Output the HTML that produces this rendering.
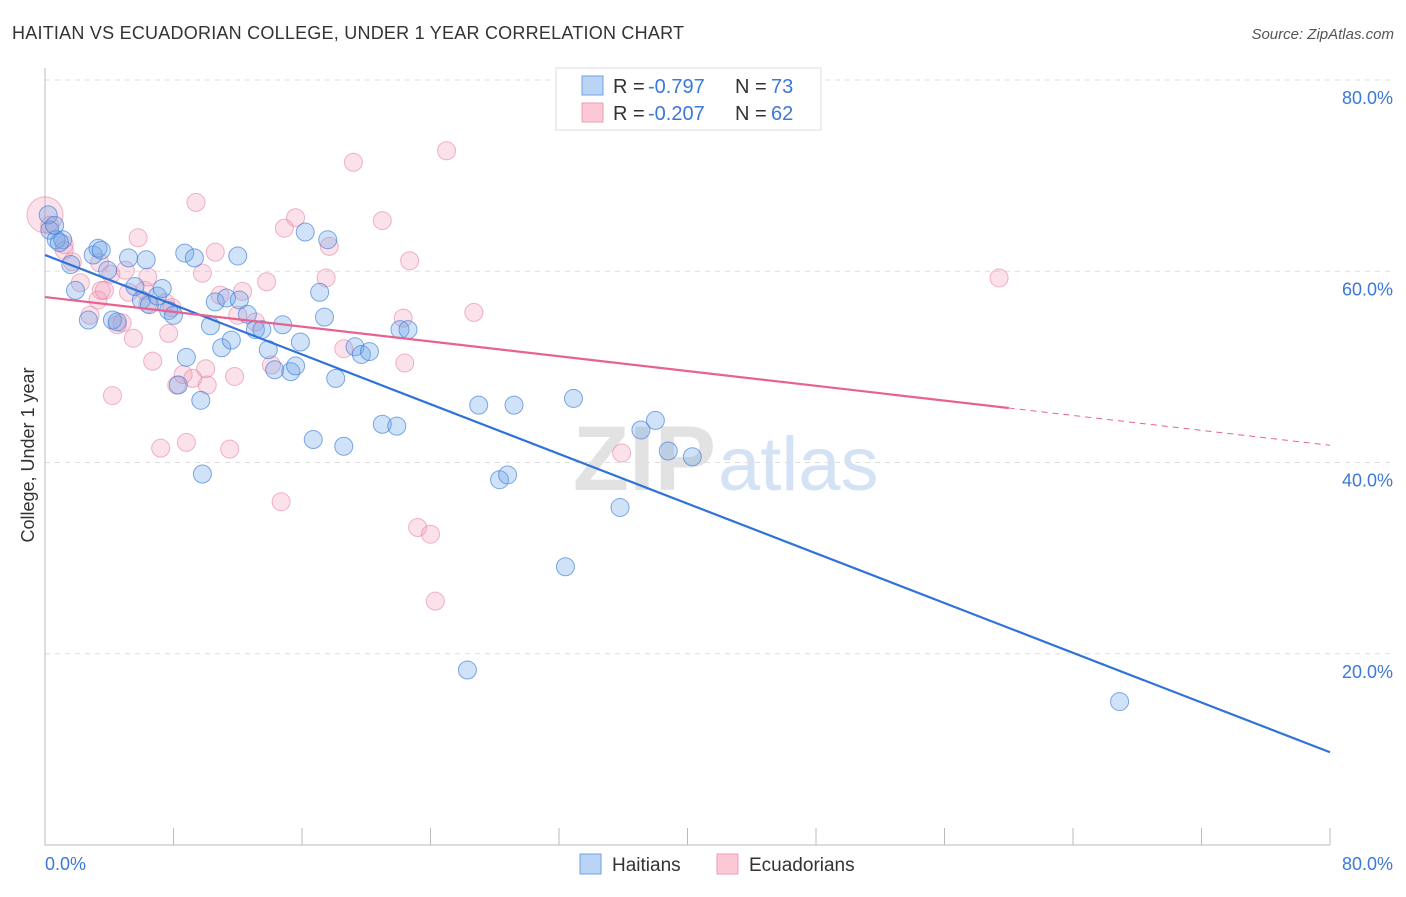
<!DOCTYPE html>
<html><head><meta charset="utf-8"><style>
body{margin:0;background:#fff;font-family:"Liberation Sans",sans-serif}
svg text{font-family:"Liberation Sans",sans-serif}
</style></head><body>
<svg id="c" width="1406" height="892" xmlns="http://www.w3.org/2000/svg">
<text x="12" y="39" font-size="18" fill="#333" textLength="672">HAITIAN VS ECUADORIAN COLLEGE, UNDER 1 YEAR CORRELATION CHART</text>
<text x="1394" y="39" font-size="15" fill="#555" text-anchor="end" font-style="italic">Source: ZipAtlas.com</text>
<text x="716" y="490" font-size="92" fill="#e2e2e2" text-anchor="end" font-weight="bold">ZIP</text>
<text x="718" y="490" font-size="76" fill="#d3e2f4">atlas</text>
<g id="grid"></g><g id="pts"></g><g id="lines"></g>
<text transform="translate(34,455) rotate(-90)" font-size="18" fill="#333" text-anchor="middle">College, Under 1 year</text>
<text x="45" y="870" font-size="18" fill="#3b78d8">0.0%</text>
<text x="1393" y="870" font-size="18" fill="#3b78d8" text-anchor="end">80.0%</text>
<g>
<rect x="556" y="68" width="265" height="62" fill="#fff" stroke="#ddd"/>
<rect x="582" y="76" width="21" height="19" fill="#b9d4f5" stroke="#6ea2e4"/>
<rect x="582" y="103" width="21" height="19" fill="#fcc8d6" stroke="#ee9bb5"/>
<text x="613" y="93" font-size="20" fill="#333">R =</text>
<text x="648" y="93" font-size="20" fill="#3b78d8">-0.797</text>
<text x="735" y="93" font-size="20" fill="#333">N =</text>
<text x="771" y="93" font-size="20" fill="#3b78d8">73</text>
<text x="613" y="120" font-size="20" fill="#333">R =</text>
<text x="648" y="120" font-size="20" fill="#3b78d8">-0.207</text>
<text x="735" y="120" font-size="20" fill="#333">N =</text>
<text x="771" y="120" font-size="20" fill="#3b78d8">62</text>
</g>
<g>
<rect x="580" y="854" width="21" height="20" fill="#b9d4f5" stroke="#6ea2e4"/>
<text x="612" y="871" font-size="19" fill="#333">Haitians</text>
<rect x="717" y="854" width="21" height="20" fill="#fcc8d6" stroke="#ee9bb5"/>
<text x="749" y="871" font-size="19" fill="#333">Ecuadorians</text>
</g>
</svg>
<script>
const yTicks=[20,40,60,80];
const yTickLabels=["20.0%","40.0%","60.0%","80.0%"];
const haitiX=[0.3,0.7,1.1,1.6,1.9,2.7,3.0,3.3,3.5,3.9,4.2,4.5,5.2,5.6,6.0,6.3,6.5,7.0,7.3,7.7,8.0,8.3,8.7,8.8,9.3,9.7,9.8,10.3,10.6,11.0,11.3,11.6,12.0,12.1,12.6,13.1,13.5,13.9,14.3,14.8,15.3,15.6,15.9,16.2,16.7,17.1,17.4,17.6,18.1,18.6,19.3,19.7,20.2,21.0,21.9,22.1,22.6,27.0,28.3,28.8,29.2,32.4,32.9,35.8,37.1,38.0,38.8,40.3,26.3,66.9,0.2,0.6,0.9];
const haitiY=[64.3,63.3,63.3,60.7,58.0,54.9,61.7,62.4,62.2,60.1,54.9,54.7,61.4,58.4,57.0,61.2,56.5,57.4,58.2,55.9,55.4,48.1,61.9,51.0,61.4,46.5,38.8,54.3,56.8,52.0,57.2,52.8,61.6,57.0,55.5,53.9,53.9,51.8,49.7,54.4,49.5,50.1,52.6,64.1,42.4,57.8,55.2,63.3,48.8,41.7,52.1,51.3,51.6,44.0,43.8,53.9,53.9,46.0,38.2,38.7,46.0,29.1,46.7,35.3,43.4,44.4,41.2,40.6,18.3,15.0,65.9,64.8,63.0];
const ecuX=[0,0.3,1.2,1.7,2.2,2.8,3.3,3.5,3.7,4.1,4.2,4.5,5.0,5.2,5.5,5.8,6.2,6.4,6.7,7.2,7.5,7.7,7.9,8.2,8.6,8.8,9.2,9.4,9.8,10.0,10.1,10.6,10.9,11.5,11.8,12.0,12.3,13.1,13.8,14.1,14.7,14.9,15.6,17.7,17.5,18.6,19.2,21.0,22.3,22.4,22.7,23.2,24.0,24.3,25.0,26.7,35.9,59.4,1.2,3.4,6.4,4.8];
const ecuY=[65.9,64.8,62.2,61.0,58.8,55.4,57.0,58.0,58.0,59.7,47.0,54.4,60.1,57.8,53.0,63.5,58.0,59.4,50.6,41.5,56.7,53.5,56.2,48.1,49.2,42.1,48.8,67.2,59.8,49.8,48.1,62.0,57.5,41.4,49.0,55.4,57.9,54.7,58.9,50.2,35.9,64.5,65.6,62.6,59.3,51.9,71.4,65.3,55.1,50.4,61.1,33.2,32.5,25.5,72.6,55.7,41.0,59.3,62.8,60.9,56.6,54.6];
const haitiTrendX=[0,80];const haitiTrendY=[61.7,9.7];
const ecuTrendX=[0,60,80];const ecuTrendY=[57.3,45.7,41.8];
const NS="http://www.w3.org/2000/svg";
const X=v=>45+v*(1285/80), Y=v=>845-v*(765/80);
function mk(t,a,p){const e=document.createElementNS(NS,t);for(const k in a)e.setAttribute(k,a[k]);p.appendChild(e);return e;}
const g=document.getElementById('grid');
yTicks.forEach((t,i)=>{
 const l=mk('line',{x1:45,x2:1393,y1:Y(t),y2:Y(t),stroke:'#ddd','stroke-dasharray':'5,5'},g);
 
 
 const tx=mk('text',{x:1393,y:Y(t)+24,'font-size':18,fill:'#3b78d8','text-anchor':'end'},g);
 tx.textContent=yTickLabels[i];
 
 
});
const ax=mk('path',{d:'M45,68V845H1330',stroke:'#bbb',fill:'none'},g);


for(let i=1;i<=10;i++){const t=mk('line',{x1:X(i*8),x2:X(i*8),y1:828,y2:845,stroke:'#bbb'},g);
 
 }
const p=document.getElementById('pts');
ecuX.forEach((x,i)=>{const c=mk('circle',{cx:X(x),cy:Y(ecuY[i]),r:i==0?18:9,fill:'rgba(242,150,180,0.28)',stroke:'rgba(232,130,165,0.6)'},p);
 
 });
haitiX.forEach((x,i)=>{const c=mk('circle',{cx:X(x),cy:Y(haitiY[i]),r:9,fill:'rgba(110,165,232,0.32)',stroke:'rgba(60,125,215,0.65)'},p);
 
 });
const L=document.getElementById('lines');
const b=mk('line',{x1:X(haitiTrendX[0]),y1:Y(haitiTrendY[0]),x2:X(haitiTrendX[1]),y2:Y(haitiTrendY[1]),stroke:'#2f72d8','stroke-width':2.2},L);


const e1=mk('line',{x1:X(ecuTrendX[0]),y1:Y(ecuTrendY[0]),x2:X(ecuTrendX[1]),y2:Y(ecuTrendY[1]),stroke:'#e8628f','stroke-width':2.2},L);


const e2=mk('line',{x1:X(ecuTrendX[1]),y1:Y(ecuTrendY[1]),x2:X(ecuTrendX[2]),y2:Y(ecuTrendY[2]),stroke:'#e8628f','stroke-width':1,'stroke-dasharray':'6,5'},L);


</script>
</body></html>
